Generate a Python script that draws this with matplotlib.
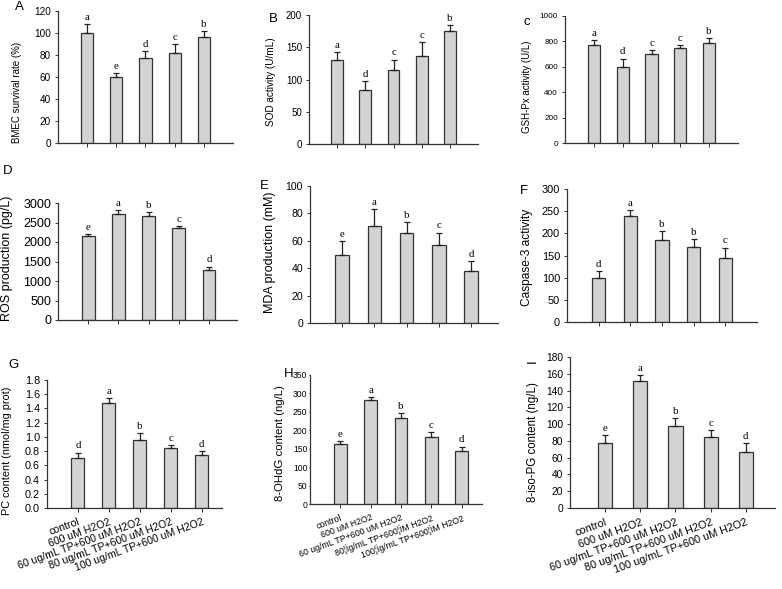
import matplotlib
matplotlib.use("Agg")
import matplotlib.pyplot as plt
import numpy as np

plt.rcParams['font.family'] = ['Liberation Sans', 'DejaVu Sans']

W, H = 782, 589

groups = ["control", "600 uM H2O2", "60 ug/mL TP+600 uM H2O2",
          "80 ug/mL TP+600 uM H2O2", "100 ug/mL TP+600 uM H2O2"]
groups_h = ["control", "600 uM H2O2", "60 ug/mL TP+600 uM H2O2",
            "80\u00a6\u00ccg/mL TP+600\u00a6\u00ccM H2O2",
            "100\u00a6\u00ccg/mL TP+600\u00a6\u00ccM H2O2"]

survival = [100, 60, 77, 82, 96]
survival_err = [8, 4, 7, 8, 6]
survival_sig = ["a", "e", "d", "c", "b"]

sod = [131, 84, 115, 137, 175]
sod_err = [12, 14, 16, 21, 10]
sod_sig = ["a", "d", "c", "c", "b"]

gsh = [775, 600, 700, 745, 785]
gsh_err = [35, 65, 35, 25, 45]
gsh_sig = ["a", "d", "c", "c", "b"]

ros = [2150, 2730, 2670, 2350, 1280]
ros_err = [50, 80, 90, 60, 90]
ros_sig = ["e", "a", "b", "c", "d"]

mda = [50, 71, 66, 57, 38]
mda_err = [10, 12, 8, 9, 7]
mda_sig = ["e", "a", "b", "c", "d"]

casp = [100, 238, 186, 169, 144]
casp_err = [14, 15, 20, 19, 24]
casp_sig = ["d", "a", "b", "b", "c"]

pc = [0.70, 1.47, 0.96, 0.84, 0.75]
pc_err = [0.08, 0.07, 0.09, 0.05, 0.05]
pc_sig = ["d", "a", "b", "c", "d"]

ohdg = [164, 282, 234, 183, 145]
ohdg_err = [6, 9, 12, 11, 11]
ohdg_sig = ["e", "a", "b", "c", "d"]

iso = [77, 151, 98, 85, 67]
iso_err = [10, 7, 9, 8, 10]
iso_sig = ["e", "a", "b", "c", "d"]

fig = plt.figure(figsize=(W / 100, H / 100), dpi=100)

edge = '#333333'


def panel(box, vals, errs, sigs, ymax, ystep, xright, tickfs, fmt=None,
          xlabels=None, xfs=7, width=0.42, pad=3.0, tlen=2.0):
    l, t, r, b = box
    ax = fig.add_axes([l / W, 1 - b / H, (r - l) / W, (b - t) / H])
    x = np.arange(len(vals))
    ax.bar(x, vals, width=width, color='#d3d3d3', edgecolor=edge, linewidth=0.9,
           zorder=2)
    ax.errorbar(x, vals, yerr=[np.zeros(len(vals)), errs], fmt='none',
                ecolor='#222222', elinewidth=0.9, capsize=2, capthick=0.9, zorder=3)
    for xi, v, e, s in zip(x, vals, errs, sigs):
        ax.annotate(s, (xi, v + e), xytext=(0, 1.5), textcoords='offset points',
                    ha='center', va='bottom', fontsize=7.8,
                    family='Liberation Serif')
    ax.set_xlim(-1, xright)
    ax.set_ylim(0, ymax)
    ticks = np.arange(0, ymax + ystep / 2, ystep)
    ax.set_yticks(ticks)
    if fmt:
        ax.set_yticklabels([fmt.format(v) for v in ticks])
    ax.tick_params(axis='y', length=tlen, width=0.7, labelsize=tickfs, pad=pad,
                   color=edge)
    ax.set_xticks(x)
    ax.tick_params(axis='x', length=3, width=0.7, color=edge)
    if xlabels is None:
        ax.set_xticklabels([])
    else:
        ax.set_xticklabels(xlabels, rotation=20, ha='right',
                           rotation_mode='anchor', fontsize=xfs)
    for sp in ['top', 'right']:
        ax.spines[sp].set_visible(False)
    for sp in ['left', 'bottom']:
        ax.spines[sp].set_color(edge)
        ax.spines[sp].set_linewidth(0.9)
    return ax


panel((58, 11, 233, 143), survival, survival_err, survival_sig, 120, 20, 5.0, 7.2)
panel((309, 15, 478, 144), sod, sod_err, sod_sig, 200, 50, 5.0, 7.0)
panel((565, 16, 738, 143), gsh, gsh_err, gsh_sig, 1000, 200, 5.0, 5.9)
panel((58, 203, 237, 320), ros, ros_err, ros_sig, 3000, 500, 4.93, 9.0)
panel((310, 186, 498, 323), mda, mda_err, mda_sig, 100, 20, 4.84, 7.6)
panel((567, 189, 757, 322), casp, casp_err, casp_sig, 300, 50, 5.0, 7.9)
panel((47, 380, 222, 508), pc, pc_err, pc_sig, 1.8, 0.2, 4.66, 7.8, fmt="{:.1f}",
      xlabels=groups, xfs=7.6)
panel((310, 375, 482, 504), ohdg, ohdg_err, ohdg_sig, 350, 50, 4.67, 6.2,
      xlabels=groups_h, xfs=6.3, pad=0.8, tlen=1.0)
panel((570, 357, 775, 508), iso, iso_err, iso_sig, 180, 20, 4.83, 7.4,
      xlabels=groups, xfs=7.8, width=0.4)


def ftext(x, y, s, **kw):
    fig.text(x / W, 1 - y / H, s, **kw)


letters = [("A", 19, 7, 0), ("B", 273, 19, 0), ("c", 527, 22, 0),
           ("D", 8, 171, 0), ("E", 264, 186, 0), ("F", 524, 191, 0),
           ("G", 13, 365, 0), ("H", 289, 374, 0), ("I", 533, 361, 90)]
for s, x, y, rot in letters:
    ftext(x, y, s, ha='center', va='center', fontsize=9.5, rotation=rot)

ylabels = [("BMEC survival rate (%)", 17, 92, 7.0),
           ("SOD activity (U/mL)", 271, 82, 7.2),
           ("GSH-Px activity (U/L)", 527, 87, 7.0),
           ("ROS production (pg/L)", 7, 258, 9.0),
           ("MDA production (mM)", 270, 252, 9.0),
           ("Caspase-3 activity", 527, 257, 8.6),
           ("PC content (nmol/mg prot)", 7, 451, 7.8),
           ("8-OHdG content (ng/L)", 280, 443, 8.2),
           ("8-iso-PG content (ng/L)", 533, 442, 8.3)]
for s, x, y, fs in ylabels:
    ftext(x, y, s, ha='center', va='center', rotation=90, fontsize=fs)

fig.savefig("out.png", dpi=100)
